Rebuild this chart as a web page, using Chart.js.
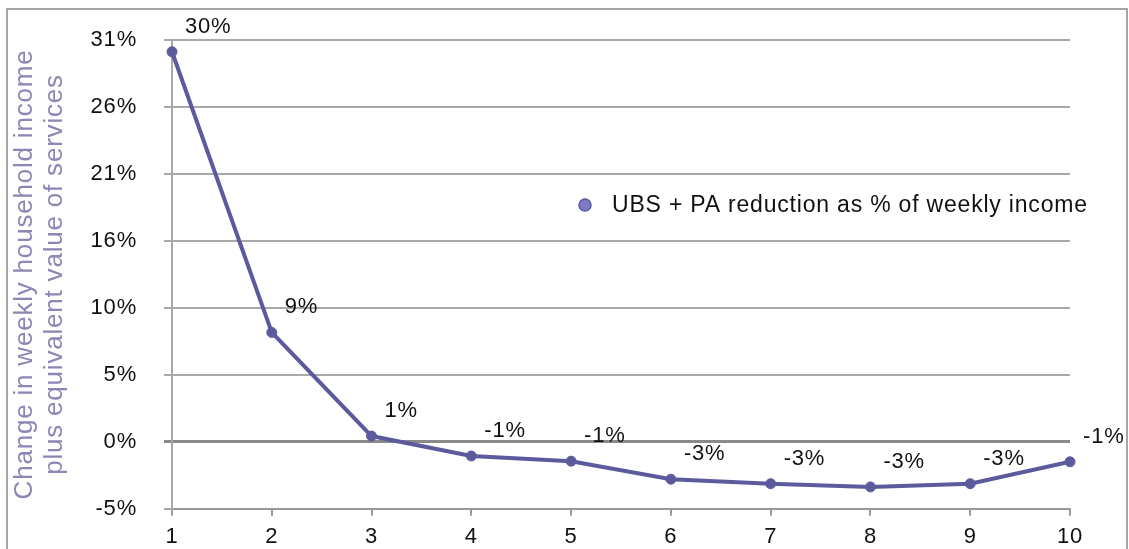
<!DOCTYPE html>
<html>
<head>
<meta charset="utf-8">
<script src="https://cdn.jsdelivr.net/npm/chart.js@4"></script>
<style>
  html, body { margin: 0; padding: 0; background: #fff; }
  #wrap { width: 1129px; height: 549px; position: relative; }
</style>
</head>
<body>
<div id="wrap"><canvas id="chart"></canvas></div>
<script>
const deciles = ["1", "2", "3", "4", "5", "6", "7", "8", "9", "10"]
const reduction = [30.3, 8.5, 0.45, -1.1, -1.5, -2.9, -3.25, -3.5, -3.25, -1.55]
const pointLabels = ["30%", "9%", "1%", "-1%", "-1%", "-3%", "-3%", "-3%", "-3%", "-1%"]
const yTickValues = [-5.2, 0, 5.2, 10.4, 15.6, 20.8, 26, 31.2]
const yTickLabels = ["-5%", "0%", "5%", "10%", "16%", "21%", "26%", "31%"]
const seriesName = "UBS + PA reduction as % of weekly income"

const FONT = "'Liberation Sans', Arial, Helvetica, sans-serif"
const LINE = "#5c5a9c"

// frame, point labels and legend drawn on the canvas
const extras = {
  id: "extras",
  beforeDraw(chart) {
    const ctx = chart.ctx
    ctx.letterSpacing = "0.8px"
    ctx.save()
    ctx.strokeStyle = "#a6a6a6"
    ctx.lineWidth = 2
    ctx.strokeRect(7, 9, 1120, 560)
    ctx.restore()
  },
  afterDatasetsDraw(chart) {
    const ctx = chart.ctx
    const meta = chart.getDatasetMeta(0)
    ctx.save()
    ctx.font = "22px " + FONT
    ctx.fillStyle = "#111"
    ctx.textAlign = "left"
    ctx.textBaseline = "middle"
    meta.data.forEach((pt, i) => {
      ctx.fillText(pointLabels[i], pt.x + 13, pt.y - 25)
    })

    // legend
    const lx = 585, ly = 205
    ctx.beginPath()
    ctx.arc(lx, ly, 6, 0, Math.PI * 2)
    ctx.fillStyle = "#7d7bc6"
    ctx.fill()
    ctx.strokeStyle = LINE
    ctx.lineWidth = 1.5
    ctx.stroke()
    ctx.font = "23px " + FONT
    ctx.fillStyle = "#111"
    ctx.fillText(chart.data.datasets[0].label, 612, ly + 1)
    ctx.restore()
  }
}

new Chart(document.getElementById("chart"), {
  type: "line",
  data: {
    labels: deciles,
    datasets: [
      {
        label: seriesName,
        data: reduction,
        borderColor: LINE,
        backgroundColor: LINE,
        borderWidth: 4,
        pointRadius: 5,
        pointBorderWidth: 1,
        tension: 0,
        fill: false,
      },
    ],
  },
  options: {
    responsive: true,
    maintainAspectRatio: false,
    animation: false,
    layout: { padding: { left: 10, right: 59, top: 39, bottom: 0 } },
    plugins: {
      legend: { display: false },
      tooltip: { enabled: false },
    },
    scales: {
      x: {
        type: "category",
        offset: false,
        grid: { drawOnChartArea: false, drawTicks: true, tickLength: 7, color: "#999", lineWidth: 2 },
        border: { display: true, color: "#999", width: 2 },
        ticks: { color: "#111", font: { size: 22, family: FONT }, padding: 8, maxRotation: 0 },
        afterFit(scale) { scale.height = 39 },
      },
      y: {
        min: -5.2,
        max: 31.2,
        afterBuildTicks(scale) {
          scale.ticks = yTickValues.map(v => ({ value: v }))
        },
        grid: {
          color: c => (c.tick && c.tick.value === 0 ? "#8a8a8a" : "#a8a8a8"),
          lineWidth: c => (c.tick && c.tick.value === 0 ? 3 : 2),
          drawTicks: true,
          tickLength: 8,
        },
        border: { display: true, color: "#a8a8a8", width: 2 },
        ticks: {
          color: "#111",
          font: { size: 22, family: FONT },
          padding: 27,
          callback: (v, i) => yTickLabels[i],
        },
        title: {
          display: true,
          text: ["Change in weekly household income", "plus equivalent value of services"],
          color: "#8c87b5",
          font: { size: 26, family: FONT, lineHeight: 1.15 },
          padding: { top: 0, bottom: 0 },
        },
        afterFit(scale) { scale.width = 162 },
      },
    },
  },
  plugins: [extras],
})
</script>
</body>
</html>
